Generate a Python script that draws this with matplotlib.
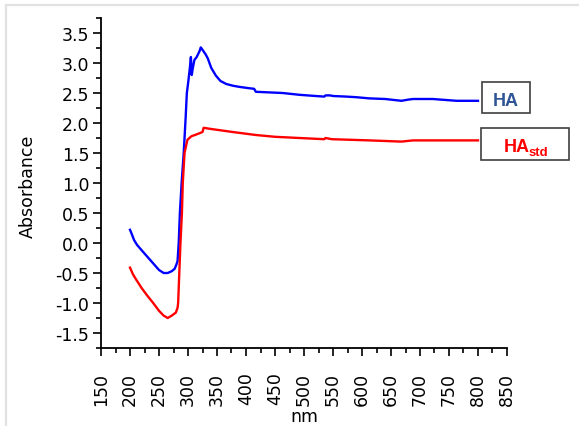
import matplotlib
matplotlib.use("Agg")
import matplotlib.pyplot as plt
from matplotlib.ticker import MultipleLocator
from matplotlib.patches import Rectangle
from matplotlib.lines import Line2D

# UV-Vis absorbance spectra (wavelength in nm)
ha_nm = [200, 203, 207, 212, 220, 230, 240, 250, 258, 265, 272, 277, 280, 282,
         284, 286, 289, 292.6, 296, 298, 300, 303, 305, 306.5, 308, 311, 315,
         320, 322, 325, 330, 334, 340, 348, 356, 366, 378, 390, 405, 414, 417,
         440, 463, 492, 520, 535, 537, 545, 550, 573, 590, 613, 640, 668, 680,
         688, 722, 763, 800]
ha_abs = [0.22, 0.15, 0.05, -0.03, -0.12, -0.23, -0.34, -0.45, -0.50, -0.50,
          -0.47, -0.43, -0.36, -0.30, 0.0, 0.5, 1.0, 1.5, 2.1, 2.5, 2.65, 2.9,
          3.1, 2.8, 2.9, 3.05, 3.1, 3.2, 3.26, 3.22, 3.15, 3.08, 2.92, 2.79,
          2.70, 2.65, 2.62, 2.60, 2.58, 2.57, 2.52, 2.51, 2.50, 2.47, 2.45,
          2.44, 2.46, 2.46, 2.45, 2.44, 2.43, 2.41, 2.40, 2.37, 2.39, 2.40,
          2.40, 2.37, 2.37]

std_nm = [200, 205, 210, 220, 230, 240, 250, 258, 265, 272, 279, 282, 283,
          285, 287, 289.5, 291, 294, 299, 306, 312, 320, 325, 327, 340, 377,
          417, 450, 492, 535, 537, 548, 613, 668, 688, 750, 800]
std_abs = [-0.41, -0.52, -0.60, -0.75, -0.88, -1.00, -1.13, -1.21, -1.25,
           -1.21, -1.16, -1.08, -1.0, -0.5, 0.0, 0.5, 1.0, 1.5, 1.72, 1.78,
           1.80, 1.83, 1.85, 1.92, 1.90, 1.85, 1.80, 1.77, 1.75, 1.73, 1.75,
           1.73, 1.71, 1.69, 1.71, 1.71, 1.71]

x_ticks = list(range(150, 851, 50))
y_ticks = [-1.5, -1.0, -0.5, 0.0, 0.5, 1.0, 1.5, 2.0, 2.5, 3.0, 3.5]

W, H = 579, 427
fig = plt.figure(figsize=(W / 100, H / 100), dpi=100)
fig.patch.set_facecolor("white")
ax = fig.add_axes([101 / W, 1 - 349 / H, (507 - 101) / W, (349 - 19) / H])

ax.plot(ha_nm, ha_abs, color="#0000ff", lw=1.7)
ax.plot(std_nm, std_abs, color="#ff0000", lw=1.7)

ax.set_xlim(150, 850)
ax.set_ylim(-1.75, 3.75)
ax.set_xticks(x_ticks)
ax.set_yticks(y_ticks)
ax.xaxis.set_minor_locator(MultipleLocator(25))
ax.yaxis.set_minor_locator(MultipleLocator(0.25))
ax.set_xticklabels([str(v) for v in x_ticks], rotation=90)
ax.set_yticklabels([f"{v:.1f}" for v in y_ticks])
ax.tick_params(which="major", direction="out", length=6, width=1.2,
               labelsize=12.5, colors="black")
ax.tick_params(which="minor", direction="out", length=3.5, width=1.2)
ax.tick_params(axis="x", which="major", pad=11)
ax.tick_params(axis="y", which="major", pad=2.5)
for s in ("top", "right"):
    ax.spines[s].set_visible(False)
for s in ("left", "bottom"):
    ax.spines[s].set_linewidth(1.3)

fig.text(28 / W, 1 - 186 / H, "Absorbance", rotation=90, ha="center",
         va="center", fontsize=12.5)
fig.text(304 / W, 1 - 417 / H, "nm", ha="center", va="center", fontsize=12.5)

# series labels in boxes
def fx(px):
    return px / W

def fy(py):
    return 1 - py / H

fig.add_artist(Rectangle((fx(482), fy(114)), fx(530) - fx(482),
                         fy(83) - fy(114), transform=fig.transFigure,
                         fill=False, edgecolor="#404040", lw=1.2))
fig.add_artist(Rectangle((fx(481), fy(161)), fx(569) - fx(481),
                         fy(129) - fy(161), transform=fig.transFigure,
                         fill=False, edgecolor="#404040", lw=1.2))
fig.text(fx(506), fy(106), "HA", ha="center", va="baseline",
         fontsize=13, fontweight="bold", color="#2f5597",
         family="Liberation Sans")
fig.text(fx(503.5), fy(152), "HA", ha="left", va="baseline",
         fontsize=13, fontweight="bold", color="#ff0000",
         family="Liberation Sans")
fig.text(fx(529), fy(156.5), "std", ha="left", va="baseline",
         fontsize=9.5, fontweight="bold", color="#ff0000",
         family="Liberation Sans")

# thin frame at top and left
fig.add_artist(Line2D([fx(6), 1], [fy(6), fy(6)], transform=fig.transFigure,
                      color="#e2e2e2", lw=1.6))
fig.add_artist(Line2D([fx(6), fx(6)], [fy(6), 0], transform=fig.transFigure,
                      color="#e2e2e2", lw=1.6))

fig.savefig("out.png", dpi=100, facecolor="white")
